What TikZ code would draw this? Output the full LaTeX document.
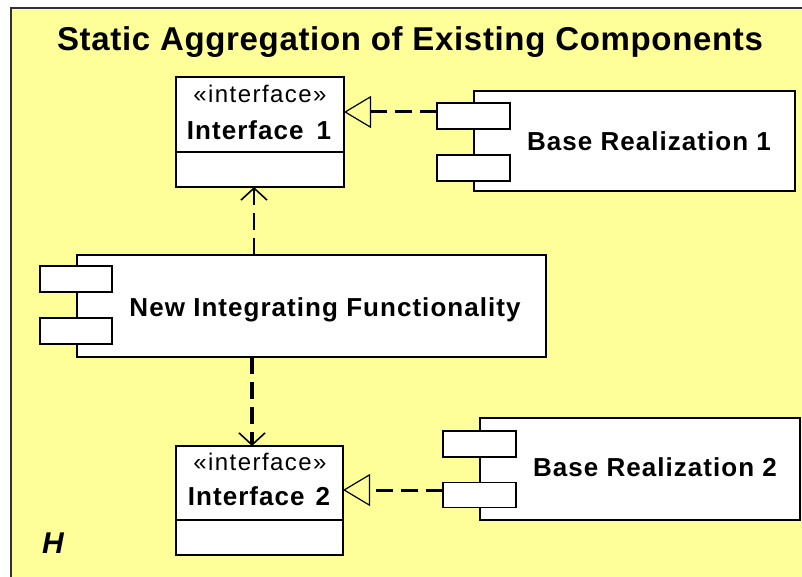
\documentclass[tikz,border=0pt]{standalone}
\usepackage{fontspec}
\setmainfont{Liberation Sans}
\usetikzlibrary{arrows.meta}
\definecolor{bgyellow}{RGB}{255,255,153}
\definecolor{framegray}{RGB}{50,50,50}
\begin{document}
\begin{tikzpicture}[x=1pt,y=-1pt,
  box/.style={draw=black,fill=white,line width=1.8pt,inner sep=0pt,outer sep=0pt,rectangle},
  lbl/.style={inner sep=0pt,anchor=base,font=\fontsize{26}{30}\selectfont\bfseries\addfontfeature{LetterSpace=4}},
  ttl/.style={inner sep=0pt,anchor=base,font=\fontsize{33}{38}\selectfont\bfseries\addfontfeature{LetterSpace=2}},
  stereo/.style={inner sep=0pt,anchor=base,font=\fontsize{24}{28}\selectfont\addfontfeature{LetterSpace=6}},
  realize/.style={line width=3pt,dash pattern=on 17pt off 8pt,
    -{Triangle[open,length=27pt,width=32pt,line width=1.2pt]}},
  depend/.style={dash pattern=on 17pt off 8pt,
    -{Straight Barb[length=12pt,width=26pt,line width=1.6pt]}}
]
\useasboundingbox (0,0) rectangle (802,577);
\fill[white] (0,0) rectangle (802,577);
\clip (0,0) rectangle (802,577);
% frame
\draw[fill=bgyellow,draw=framegray,line width=2.5pt] (11,8) rectangle (830,600);
\node[ttl] (title) at (410,51) {Static Aggregation of Existing Components};
\node[inner sep=0pt,anchor=base,font=\fontsize{30}{34}\selectfont\bfseries\itshape] (hlabel) at (53,553) {H};

% Interface 1
\node[box,minimum width=168pt,minimum height=110pt] (i1) at (260,132) {};
\coordinate (i1d) at (176,152);
\draw[line width=1.8pt] (i1d) -- (i1d -| i1.east);
\node[stereo] (i1s) at (260,103) {«interface»};
\node[lbl] (i1n) at (259,140) {Interface\hspace{13pt}1};

% Interface 2
\node[box,minimum width=167pt,minimum height=109pt] (i2) at (259.5,500.5) {};
\coordinate (i2d) at (176,520);
\draw[line width=1.8pt] (i2d) -- (i2d -| i2.east);
\node[stereo] (i2s) at (260,470) {«interface»};
\node[lbl] (i2n) at (259,505) {Interface\hspace{11pt}2};

% Base Realization 1
\node[box,minimum width=321pt,minimum height=100pt] (br1) at (634.5,141) {};
\node[box,minimum width=73pt,minimum height=26pt] (br1p1) at (473.5,116) {};
\node[box,minimum width=73pt,minimum height=26pt] (br1p2) at (473.5,168) {};
\node[lbl] (br1t) at (649,151) {Base Realization 1};

% New Integrating Functionality
\node[box,minimum width=469pt,minimum height=102pt] (nif) at (311.5,306) {};
\node[box,minimum width=72pt,minimum height=26pt] (nifp1) at (76,279) {};
\node[box,minimum width=72pt,minimum height=26pt] (nifp2) at (76,331) {};
\node[lbl] (nift) at (325,316) {New Integrating Functionality};

% Base Realization 2
\node[box,minimum width=320pt,minimum height=102pt] (br2) at (640,469) {};
\node[box,minimum width=73pt,minimum height=26pt] (br2p1) at (479.5,444) {};
\node[box,minimum width=73pt,minimum height=25pt] (br2p2) at (479.5,495) {};
\node[lbl] (br2t) at (655,476) {Base Realization 2};

% connectors
\coordinate (r1) at (0,112);
\coordinate (r2) at (0,490);
\draw[realize] (br1p1.west |- r1) -- (i1.east |- r1);
\draw[realize] (br2p2.west |- r2) -- (i2.east |- r2);
\coordinate (a1) at (254,0);
\coordinate (a2) at (252,0);
\draw[depend,line width=2.6pt] (nif.north -| a1) -- (i1.south -| a1);
\draw[depend,line width=3.6pt] (nif.south -| a2) -- (i2.north -| a2);
\end{tikzpicture}
\end{document}
